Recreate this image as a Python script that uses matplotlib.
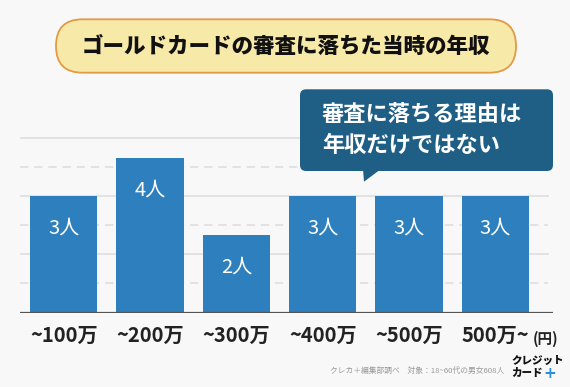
import matplotlib
matplotlib.use("Agg")
import matplotlib.pyplot as plt
from matplotlib.patches import FancyBboxPatch, Polygon

plt.rcParams['font.family'] = ['Noto Sans CJK JP', 'DejaVu Sans']

categories = ["~100万", "~200万", "~300万", "~400万", "~500万", "500万~"]
values = [3, 4, 2, 3, 3, 3]
value_labels = ["3人", "4人", "2人", "3人", "3人", "3人"]
title = "ゴールドカードの審査に落ちた当時の年収"
bubble_lines = ["審査に落ちる理由は", "年収だけではない"]
unit_label = "(円)"
footer = "クレカ＋編集部調べ　対象：18~60代の男女608人"

W, H = 570, 387
bg = "#f8f8f8"
bar_color = "#2d7fbd"
bubble_color = "#1f5f86"

fig = plt.figure(figsize=(W / 100, H / 100), dpi=100, facecolor=bg)

def fx(px):
    return px / W

def fy(py):
    return 1 - py / H

# axes: x 20..553 px, y bottom 312.5 px, top 130.6 px
ax = fig.add_axes([fx(20), fy(312.5), fx(553) - fx(20), fy(130.6) - fy(312.5)])
ax.set_facecolor(bg)
x = list(range(len(categories)))
ax.set_xlim(-0.507, 5.668)
ax.set_ylim(0, 4.7)

# grid lines
for i, g in enumerate([0.75, 1.5, 2.25, 3.0, 3.75, 4.5]):
    ls = (0, (5, 3.5)) if i % 2 == 0 else "-"
    ax.axhline(g, xmin=0, xmax=0.99, color="#dedede", lw=1.2, ls=ls, zorder=0)

bars = ax.bar(x, values, width=0.78, color=bar_color, zorder=2)
ax.axhline(0, color="#555555", lw=1.6, zorder=3)

for xi, v, lab in zip(x, values, value_labels):
    ax.annotate(lab, (xi, v), xytext=(0, -23), textcoords="offset points",
                ha="center", va="center", color="white", fontsize=14.5)

ax.set_xticks(x)
ax.set_xticklabels(categories, fontsize=14.5, fontweight="bold", color="#222222")
ax.tick_params(axis="x", length=0, pad=9)
ax.set_yticks([])
for s in ax.spines.values():
    s.set_visible(False)

# unit label
fig.text(fx(546), fy(339), unit_label, ha="center", va="center",
         fontsize=10.5, fontweight="bold", color="#222222")

# title box
tb = FancyBboxPatch((56, H - 72.7), 460, 53.4,
                    boxstyle="round,pad=0,rounding_size=26.5",
                    transform=None, facecolor="#f7e9a8",
                    edgecolor="#e29a45", lw=1.3)
fig.patches.append(tb)
fig.text(fx(286), fy(46.5), title, ha="center", va="center",
         fontsize=15.5, fontweight="heavy", color="#111111")

# speech bubble
bb = FancyBboxPatch((300, H - 171), 253, 81.7,
                    boxstyle="round,pad=0,rounding_size=6",
                    transform=None, facecolor=bubble_color, edgecolor="none")
fig.patches.append(bb)
tail = Polygon([(363, H - 169), (381, H - 169), (364, H - 181.7)], closed=True,
               transform=None, facecolor=bubble_color, edgecolor="none")
fig.patches.append(tail)
fig.text(fx(322), fy(114), bubble_lines[0], ha="left", va="center",
         fontsize=16, fontweight="bold", color="white")
fig.text(fx(322), fy(145), bubble_lines[1], ha="left", va="center",
         fontsize=16, fontweight="bold", color="white")

# footer
fig.text(fx(504), fy(371), footer, ha="right", va="center",
         fontsize=5.6, color="#999999")
fig.text(fx(511), fy(361), "クレジット", ha="left", va="center",
         fontsize=7.6, fontweight="heavy", color="#111111")
t1 = fig.text(fx(511), fy(373), "カード", ha="left", va="center",
              fontsize=7.6, fontweight="heavy", color="#111111")
fig.text(fx(543), fy(373), "+", ha="left", va="center",
         fontsize=11, fontweight="bold", color="#2a8fdc",
         family="DejaVu Sans")

fig.savefig("out.png", dpi=100, facecolor=bg)
